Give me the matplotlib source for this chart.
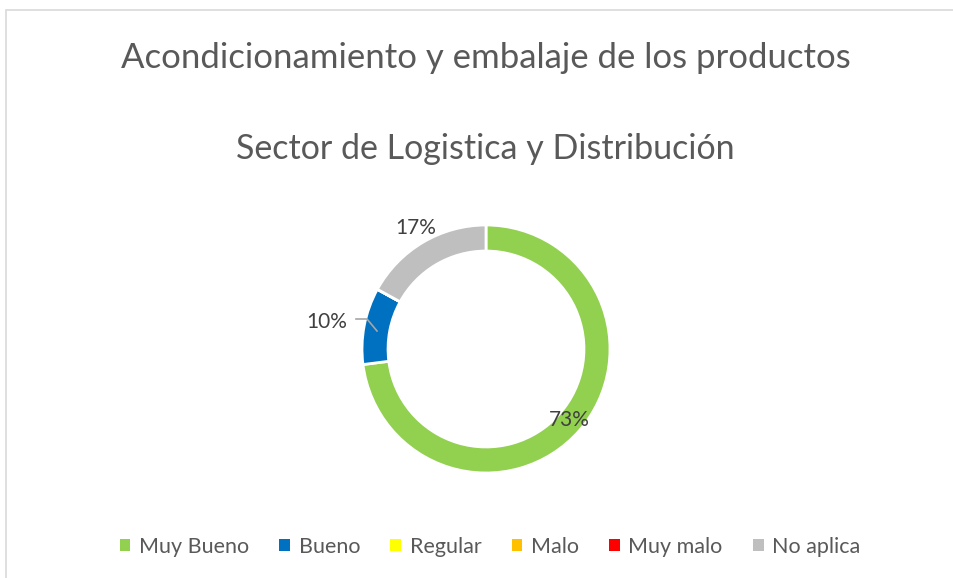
import matplotlib.pyplot as plt
from matplotlib.patches import Rectangle

categorias = ['Muy Bueno', 'Bueno', 'Regular', 'Malo', 'Muy malo', 'No aplica']
valores = [73, 10, 0, 0, 0, 17]
colores = ['#92D050', '#0070C0', '#FFFF00', '#FFC000', '#FF0000', '#BFBFBF']
titulo1 = 'Acondicionamiento y embalaje de los productos'
titulo2 = 'Sector de Logistica y Distribución'

plt.rcParams['font.family'] = ['Lato', 'DejaVu Sans']
gris = '#595959'

fig = plt.figure(figsize=(9.54, 5.78), dpi=100)
ax = fig.add_axes([0, 0, 1, 1])

# donut (pixel coordinates, y up)
cx, cy, r = 486, 578 - 349, 124
wedges, _ = ax.pie(valores, colors=colores, startangle=90, counterclock=False,
                   center=(cx, cy), radius=r,
                   wedgeprops=dict(width=r * 0.21, edgecolor='white', linewidth=2))
ax.set_xlim(0, 954)
ax.set_ylim(0, 578)
ax.set_aspect('equal')
ax.axis('off')

# outer frame of the chart area
ax.add_patch(Rectangle((6, -10), 1000, 578 - 10 + 10, fill=False,
                       edgecolor='#D9D9D9', linewidth=1.2))

# title (two lines)
fig.text(486 / 954, 1 - 58 / 578, titulo1, ha='center', va='center',
         fontsize=25, color=gris)
fig.text(485 / 954, 1 - 149 / 578, titulo2, ha='center', va='center',
         fontsize=24.5, color=gris)

# data labels
ax.text(569, 578 - 420, '73%', ha='center', va='center', fontsize=15, color='#404040')
ax.text(416, 578 - 228, '17%', ha='center', va='center', fontsize=15, color='#404040')
ax.text(327, 578 - 322, '10%', ha='center', va='center', fontsize=15, color='#404040')
ax.plot([356, 367, 377], [578 - 319, 578 - 319, 578 - 331], color='#A6A6A6', lw=1.2)

leg = fig.legend(wedges, categorias, loc='center', bbox_to_anchor=(490 / 954, 1 - 547 / 578),
                 ncol=6, frameon=False, fontsize=15.5, labelcolor=gris,
                 handlelength=0.5, handleheight=0.5, handletextpad=0.4,
                 columnspacing=1.4)
for h in leg.legend_handles:
    h.set_edgecolor('none')

fig.savefig('out.png', dpi=100)
